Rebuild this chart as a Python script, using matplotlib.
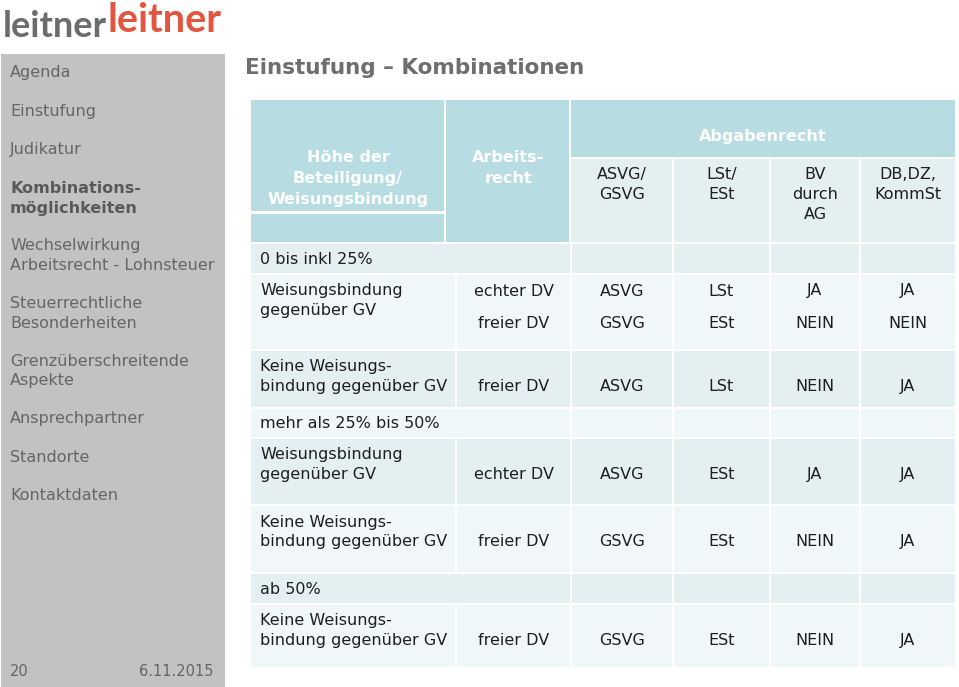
import matplotlib.pyplot as plt
from matplotlib.patches import Rectangle

# ---------------------------------------------------------
# slide content
# ---------------------------------------------------------
title = "Einstufung – Kombinationen"

sidebar_items = [
    "Agenda",
    "Einstufung",
    "Judikatur",
    "Kombinations-\nmöglichkeiten",
    "Wechselwirkung\nArbeitsrecht - Lohnsteuer",
    "Steuerrechtliche\nBesonderheiten",
    "Grenzüberschreitende\nAspekte",
    "Ansprechpartner",
    "Standorte",
    "Kontaktdaten",
]
sidebar_active = "Kombinations-\nmöglichkeiten"
page_number = "20"
date_text = "6.11.2015"

header_main = ["Höhe der\nBeteiligung/\nWeisungsbindung", "Arbeits-\nrecht", "Abgabenrecht"]
header_sub = ["ASVG/\nGSVG", "LSt/\nESt", "BV\ndurch\nAG", "DB,DZ,\nKommSt"]

row_is_group = [True, False, False, True, False, False, True, False]
row_labels = [
    "0 bis inkl 25%",
    "Weisungsbindung\ngegenüber GV",
    "Keine Weisungs-\nbindung gegenüber GV",
    "mehr als 25% bis 50%",
    "Weisungsbindung\ngegenüber GV",
    "Keine Weisungs-\nbindung gegenüber GV",
    "ab 50%",
    "Keine Weisungs-\nbindung gegenüber GV",
]
arbeitsrecht = ["", "echter DV\nfreier DV", "freier DV", "", "echter DV", "freier DV", "", "freier DV"]
asvg_gsvg = ["", "ASVG\nGSVG", "ASVG", "", "ASVG", "GSVG", "", "GSVG"]
lst_est = ["", "LSt\nESt", "LSt", "", "ESt", "ESt", "", "ESt"]
bv_ag = ["", "JA\nNEIN", "NEIN", "", "JA", "NEIN", "", "NEIN"]
db_dz = ["", "JA\nNEIN", "JA", "", "JA", "JA", "", "JA"]

# ---------------------------------------------------------
# layout (pixels, y downwards)
# ---------------------------------------------------------
W, H = 959, 687
col_x = [251, 456, 571, 673, 770, 860, 955]
head_split = 445
row_top = [244, 275, 351, 409, 439, 506, 574, 605]
row_bot = [273, 349, 407, 437, 504, 572, 603, 667]
sidebar_y = [72, 111, 149, 188, 245, 303, 361, 418, 457, 495]

TEAL = "#b7dde2"
ROW_DARK = "#e4eff2"
ROW_LIGHT = "#f0f7f9"
GREY_TXT = "#646567"
SIDEBAR = "#c1c2c4"
BODY_TXT = "#1e1e1e"

SANS = "DejaVu Sans"

fig = plt.figure(figsize=(W / 100, H / 100), dpi=100)
ax = fig.add_axes([0, 0, 1, 1])
ax.set_xlim(0, W)
ax.set_ylim(H, 0)
ax.axis("off")


def box(x0, y0, x1, y1, color):
    ax.add_patch(Rectangle((x0, y0), x1 - x0, y1 - y0, facecolor=color,
                           edgecolor="none", zorder=1))


def put(x, y, text, gap=19.5, shift=5, **kw):
    # y is the visual middle of the capitals; draw on the baseline so
    # words with and without descenders line up
    for i, line in enumerate(text.split("\n")):
        ax.text(x, y + i * gap + shift, line, va="baseline", zorder=3, **kw)


# logo
ax.text(3, 37, "leitner", fontfamily="Lato", fontweight="bold",
        fontsize=26, color="#6b6c6e", va="baseline")
ax.text(107, 32, "leitner", fontfamily="Lato", fontweight="bold",
        fontsize=28.5, color="#e2553f", va="baseline")

# sidebar
box(1, 54, 225, H, SIDEBAR)
for item, y in zip(sidebar_items, sidebar_y):
    bold = item == sidebar_active
    put(10, y, item, gap=19.5, fontfamily=SANS, fontsize=11.5,
        fontweight="bold" if bold else "normal",
        color="#58595b" if bold else GREY_TXT)
put(10, 671, page_number, shift=4.5, fontfamily=SANS, fontsize=10.5, color=GREY_TXT)
put(214, 671, date_text, shift=4.5, fontfamily=SANS, fontsize=10.5, color=GREY_TXT,
    ha="right")

# title
put(245, 67, title, shift=7.5, fontfamily=SANS, fontweight="bold", fontsize=15.5,
    color="#6d6e70")

# header
box(col_x[0], 100, head_split - 1, 211, TEAL)
box(col_x[0], 214, head_split - 1, 242, TEAL)
box(head_split + 1, 100, col_x[2] - 2, 242, TEAL)
box(col_x[2], 100, col_x[-1], 157, TEAL)
for j in range(4):
    box(col_x[2 + j] + (0 if j == 0 else 1), 159,
        col_x[3 + j] - (0 if j == 3 else 1), 242, ROW_DARK)

head_kw = dict(fontfamily=SANS, fontweight="bold", fontsize=11.5, color="white", ha="center")
put((col_x[0] + head_split) / 2, 157, header_main[0], gap=21, **head_kw)
put((head_split + col_x[2]) / 2, 157, header_main[1], gap=21, **head_kw)
put((col_x[2] + col_x[-1]) / 2, 136, header_main[2], **head_kw)
for j, lab in enumerate(header_sub):
    put((col_x[2 + j] + col_x[3 + j]) / 2, 174, lab, gap=20,
        fontfamily=SANS, fontsize=11.5, color=BODY_TXT, ha="center")

# body
values = [arbeitsrecht, asvg_gsvg, lst_est, bv_ag, db_dz]
for i in range(len(row_labels)):
    color = ROW_DARK if i % 2 == 0 else ROW_LIGHT
    y0, y1 = row_top[i], row_bot[i]
    if row_is_group[i]:
        edges = [col_x[0]] + col_x[2:]
    else:
        edges = col_x
    for k in range(len(edges) - 1):
        x0 = edges[k] + (0 if k == 0 else 1)
        x1 = edges[k + 1] - (0 if k == len(edges) - 2 else 1)
        box(x0, y0, x1, y1, color)

    body_kw = dict(fontfamily=SANS, fontsize=11.5, color=BODY_TXT)
    if row_is_group[i]:
        put(260, (y0 + y1) / 2, row_labels[i], **body_kw)
        continue
    label_y = y0 + 15.5
    put(260, label_y, row_labels[i], **body_kw)
    n_lines = row_labels[i].count("\n") + 1
    for j, col in enumerate(values):
        cx = (col_x[1 + j] + col_x[2 + j]) / 2
        val = col[i]
        if "\n" in val:
            put(cx, label_y, val, gap=32, ha="center", **body_kw)
        else:
            put(cx, label_y + (n_lines - 1) * 19.5, val, ha="center", **body_kw)

fig.savefig("out.png", dpi=100)
